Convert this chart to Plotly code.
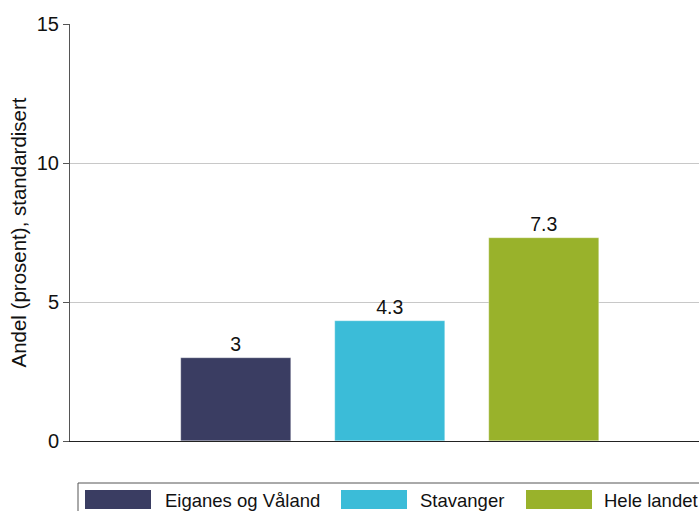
import plotly.graph_objects as go

SERIES = ["Eiganes og Våland", "Stavanger", "Hele landet"]
VALUES = [3, 4.3, 7.3]
LABELS = ["3", "4.3", "7.3"]
POS = [0, 1, 2]
COLORS = ["#3a3d62", "#3bbcd8", "#99b22b"]

FONT = "Liberation Sans, Arial, sans-serif"

# the plot runs a little past the right edge of the window, as in the original
FW, FH = 710, 511
# plot area in pixels: left 70, top 24, right 710, bottom 441
L, T, W, H = 70, 24, 640, 417


def px(x):
    return (x - L) / W


def py(y):
    return (T + H - y) / H


fig = go.Figure()
for name, v, lab, p, c in zip(SERIES, VALUES, LABELS, POS, COLORS):
    fig.add_trace(go.Bar(
        x=[p], y=[v], name=name, width=0.714,
        marker=dict(color=c, line=dict(color="rgba(255,255,255,0.6)", width=0.5)),
        text=[lab], textposition="outside", cliponaxis=False,
        textfont=dict(size=19.5, color="#111"),
        showlegend=False,
    ))

# legend drawn as a box with wide swatches, like the original
shapes = [dict(type="rect", xref="paper", yref="paper",
               x0=px(78), x1=px(760), y0=py(483), y1=py(540),
               line=dict(color="#555", width=1), fillcolor="white", layer="above")]
annotations = []
swatch_x = [85, 341, 526]
text_x = [163, 418, 602]
for name, c, sx, tx in zip(SERIES, COLORS, swatch_x, text_x):
    shapes.append(dict(type="rect", xref="paper", yref="paper",
                       x0=px(sx), x1=px(sx + 66), y0=py(490), y1=py(509),
                       line=dict(width=0), fillcolor=c, layer="above"))
    annotations.append(dict(text=name, xref="paper", yref="paper",
                            x=px(tx), y=py(500), xanchor="left", yanchor="middle",
                            showarrow=False, font=dict(size=18.5, color="#111")))

fig.update_layout(
    width=FW, height=FH,
    margin=dict(l=L, r=0, t=T, b=FH - T - H, autoexpand=False),
    plot_bgcolor="white", paper_bgcolor="white",
    font=dict(family=FONT, color="#111"),
    showlegend=False,
    bargap=0, barmode="overlay",
    shapes=shapes, annotations=annotations,
)
fig.update_xaxes(
    range=[-1.078, 3.078], showticklabels=False, ticks="",
    showgrid=False, zeroline=False,
    showline=True, linecolor="#222", linewidth=1,
)
fig.update_yaxes(
    range=[0, 15], tickvals=[0, 5, 10, 15], ticks="outside", ticklen=6,
    tickcolor="#555", tickfont=dict(size=20), automargin=False,
    showgrid=True, gridcolor="#c8c8c8", gridwidth=1, zeroline=False,
    showline=True, linecolor="#555", linewidth=1,
    title=dict(text="Andel (prosent), standardisert", font=dict(size=20.5), standoff=4),
)

fig.write_html(
    "out.html",
    config={"displayModeBar": False},
    post_script="document.body.style.margin='0';document.body.style.overflow='hidden';",
)
